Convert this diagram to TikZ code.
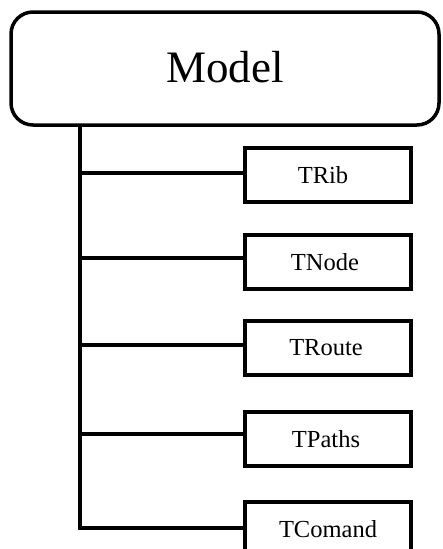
\documentclass[tikz,border=0pt]{standalone}
\usepackage{fontspec}
\setmainfont{Liberation Serif}
\begin{document}
\begin{tikzpicture}[x=1pt,y=-1pt,
  line width=3.5pt,
  rootbox/.style={draw, rounded corners=22pt, minimum width=428pt, minimum height=113pt,
    inner sep=0pt, font=\fontsize{45}{50}\selectfont},
  classbox/.style={draw, minimum width=166pt, minimum height=54pt, inner sep=0pt,
    font=\fontsize{24.5}{28}\selectfont},
  link/.style={line width=3.5pt}]
\useasboundingbox (0,0) rectangle (442,549);
\fill[white] (0,0) rectangle (442,549);

\node[rootbox] (model) at (225,68.5) {\raisebox{3pt}{Model}};

\node[classbox] (trib)    at (328,175) {\hspace*{-10pt}TRib};
\node[classbox] (tnode)   at (328,262) {\hspace*{-6pt}TNode};
\node[classbox] (troute)  at (328,348) {\hspace*{-4pt}TRoute};
\node[classbox] (tpaths)  at (328,439) {\hspace*{-4pt}TPaths};
\node[classbox] (tcomand) at (328,529) {TComand};

\coordinate (tx) at (80,0);
\coordinate (jrib)    at ([yshift=2pt]trib.west);
\coordinate (jnode)   at ([yshift=4pt]tnode.west);
\coordinate (jroute)  at ([yshift=3pt]troute.west);
\coordinate (jpaths)  at ([yshift=5pt]tpaths.west);
\coordinate (jcomand) at ([yshift=1pt]tcomand.west);

\draw[link] (model.south -| tx) -- (tx |- jcomand);
\foreach \j in {jrib,jnode,jroute,jpaths,jcomand}
  \draw[link] ([xshift=-1.75pt]tx |- \j) -- (\j);
\end{tikzpicture}
\end{document}
